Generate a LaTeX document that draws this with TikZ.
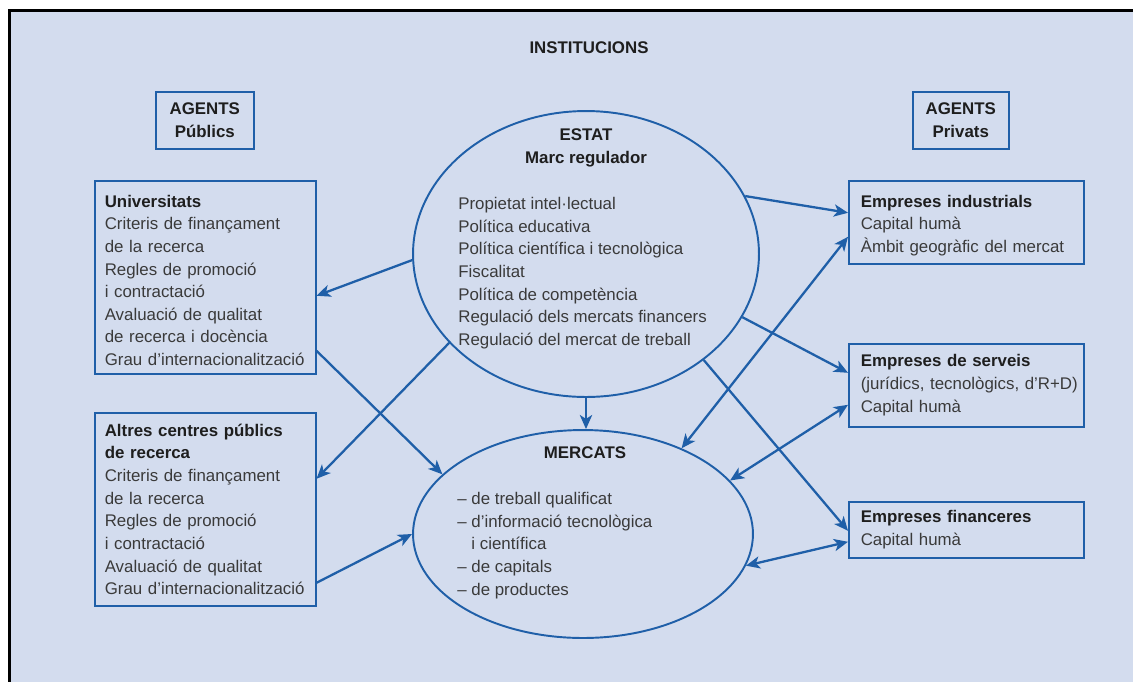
\documentclass[tikz,border=0pt]{standalone}
\usepackage{fontspec}
\setmainfont{Liberation Sans}
\usetikzlibrary{arrows.meta,calc,shapes.geometric}
\definecolor{bg}{RGB}{211,220,238}
\definecolor{ln}{RGB}{31,95,168}
\definecolor{tx}{RGB}{58,58,58}
\definecolor{hd}{RGB}{30,30,30}
\newcommand{\hdg}[1]{{\color{hd}\bfseries #1}}
\begin{document}
\begin{tikzpicture}[x=0.02cm,y=-0.02cm,
  fnt/.style={font=\fontsize{9.6}{12.9}\selectfont},
  box/.style={fnt, draw=ln, line width=0.9pt, anchor=north west, align=left,
              inner ysep=0pt, text=tx},
  lbox/.style={box, text width=4.02cm, inner xsep=0.2cm},
  rbox/.style={box, text width=4.22cm, inner xsep=0.24cm},
  agbox/.style={fnt, draw=ln, line width=0.9pt, anchor=north west, align=center,
              inner sep=0pt, minimum height=1.14cm, text=hd, font=\fontsize{9.6}{12.9}\selectfont\bfseries},
  ell/.style={draw=ln, line width=1.1pt, ellipse, inner sep=0pt},
  eltext/.style={fnt, align=left, anchor=north west, inner sep=0pt, text=tx},
  ttl/.style={fnt, anchor=base, inner sep=0pt, text=hd, font=\fontsize{9.6}{12.9}\selectfont\bfseries},
  tip/.tip={Stealth[length=8pt,width=7pt,inset=2.2pt]},
  arr/.style={draw=ln, line width=1.3pt, -tip},
  darr/.style={draw=ln, line width=1.3pt, tip-tip},
]
\useasboundingbox (0,0) rectangle (1133,681);
\clip (0,0) rectangle (1133,681);
\fill[white] (0,0) rectangle (1133,681);
\draw[fill=bg, draw=black, line width=1.7pt] (9.5,10.5) rectangle (1200,750);

\node[ttl] (inst) at (589,53) {INSTITUCIONS};

\node[agbox, minimum width=1.96cm] (apub) at (155,91) {AGENTS\\Públics};
\node[agbox, minimum width=1.92cm] (apriv) at (912,91) {AGENTS\\Privats};

\node[lbox, minimum height=3.86cm] (univ) at (94,180)
  {\rule{0pt}{10.4pt}\hdg{Universitats}\\Criteris de finançament\\de la recerca\\Regles de promoció\\i contractació\\Avaluació de qualitat\\de recerca i docència\\Grau d'internacionalització};
\node[lbox, minimum height=3.86cm] (altres) at (94,412)
  {\hdg{Altres centres públics}\\\hdg{de recerca}\\Criteris de finançament\\de la recerca\\Regles de promoció\\i contractació\\Avaluació de qualitat\\Grau d'internacionalització};

\node[rbox, minimum height=1.66cm] (ind) at (848,180)
  {\rule{0pt}{10.4pt}\hdg{Empreses industrials}\\Capital humà\\Àmbit geogràfic del mercat};
\node[rbox, minimum height=1.66cm] (serv) at (848,343)
  {\hdg{Empreses de serveis}\\\mbox{(jurídics, tecnològics, d'R+D)}\\Capital humà};
\node[rbox, minimum height=1.12cm] (fin) at (848,501)
  {\hdg{Empreses financeres}\\Capital humà};

\node[ell, minimum width=6.92cm, minimum height=5.72cm] (estat) at (586,254) {};
\node[ttl] (estatt) at (586,140) {ESTAT};
\node[ttl] (marc) at (586,163) {Marc regulador};
\node[eltext] (estatl) at (458,197) {Propietat intel·lectual\\Política educativa\\Política científica i tecnològica\\Fiscalitat\\Política de competència\\Regulació dels mercats financers\\Regulació del mercat de treball};

\node[ell, minimum width=6.8cm, minimum height=4.16cm] (merc) at (583,534) {};
\node[ttl] (merct) at (585,458) {MERCATS};
\node[eltext] (mercl) at (457,492) {– de treball qualificat\\– d'informació tecnològica\\\phantom{– }i científica\\– de capitals\\– de productes};

\draw[arr] (estat.182) -- ($(univ.east)+(0,18.5)$);
\draw[arr] (estat.213) -- ($(altres.east)+(0,-30.5)$);
\draw[arr] ($(univ.east)+(0,73.5)$) -- (merc.157);
\draw[arr] ($(altres.east)+(0,73.5)$) -- (merc.180);
\draw[arr] (estat.south) -- (estat.south |- merc.north);
\draw[arr] (estat.20) -- ($(ind.west)+(0,-9.5)$);
\draw[darr] (merc.41) -- ($(ind.west)+(0,14.5)$);
\draw[arr] (estat.338) -- ($(serv.west)+(0,-12.5)$);
\draw[darr] (merc.20) -- ($(serv.west)+(0,19.5)$);
\draw[arr] (estat.318) -- ($(fin.west)+(0,1)$);
\draw[darr] (merc.349) -- ($(fin.west)+(0,12)$);
\end{tikzpicture}
\end{document}
